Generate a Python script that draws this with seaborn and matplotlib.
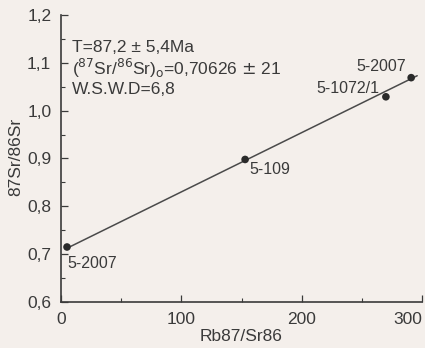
import numpy as np
import pandas as pd
import matplotlib
matplotlib.use("Agg")
import matplotlib.pyplot as plt
import seaborn as sns

# ---- data ----
samples = ["5-2007", "5-109", "5-1072/1", "5-2007"]
rb_sr = [5, 153, 270, 291]
sr_sr = [0.715, 0.898, 1.029, 1.069]
age_ma = 87.2
sr_initial = 0.70626
decay_const = 1.42e-11
line_x = [5, 296]
x_ticks = [0, 100, 200, 300]
x_ticklabels = ["0", "100", "200", "300"]
y_ticks = [0.6, 0.7, 0.8, 0.9, 1.0, 1.1, 1.2]
y_ticklabels = ["0,6", "0,7", "0,8", "0,9", "1,0", "1,1", "1,2"]

sns.set_theme(style="ticks")
plt.rcParams['font.family'] = ['Liberation Sans', 'DejaVu Sans']
bg = "#f4efeb"
ink = "#3a3a3a"

fig = plt.figure(figsize=(4.25, 3.48), dpi=100, facecolor=bg)
ax = fig.add_axes([61/425, 1-302/348, (422-61)/425, (302-15)/348])
ax.set_facecolor(bg)

df = pd.DataFrame({"x": rb_sr, "y": sr_sr, "name": samples})
slope = np.exp(decay_const * age_ma * 1e6) - 1
ldf = pd.DataFrame({"x": line_x, "y": [sr_initial + slope * v for v in line_x]})
sns.lineplot(data=ldf, x="x", y="y", ax=ax, color="#4a4a4a", lw=1.1)
sns.scatterplot(data=df, x="x", y="y", ax=ax, color="#2a2a2a", s=30,
                edgecolor="none", zorder=5)

ax.set_xlim(0, 300)
ax.set_ylim(0.6, 1.2)
ax.set_xticks(x_ticks)
ax.set_xticklabels(x_ticklabels)
ax.set_yticks(y_ticks)
ax.set_yticklabels(y_ticklabels)
ax.set_xticks([50, 150, 250], minor=True)
ax.set_yticks([0.65, 0.75, 0.85, 0.95, 1.05, 1.15], minor=True)
ax.tick_params(axis="both", which="major", direction="in", length=5,
               width=0.9, color=ink, labelsize=12.5, labelcolor=ink, pad=7)
ax.tick_params(axis="both", which="minor", direction="in", length=3,
               width=0.8, color=ink)
for lab in ax.get_xticklabels():
    if lab.get_text() == "300":
        lab.set_horizontalalignment("right")
for s in ["top", "right"]:
    ax.spines[s].set_visible(False)
for s in ["left", "bottom"]:
    ax.spines[s].set_color(ink)
    ax.spines[s].set_linewidth(1.2)

ax.set_xlabel("Rb87/Sr86", fontsize=12.5, color=ink)
ax.set_ylabel("87Sr/86Sr", fontsize=12.5, color=ink)
ax.xaxis.set_label_coords((241-61)/361, -(329-302)/287)
ax.yaxis.set_label_coords(-(61-23)/361, 1-(157-15)/287)

# sample labels
offsets = [(0, -12), (3, -7), (-5, 6), (-4, 8)]
has = ["left", "left", "right", "right"]
for (nx, ny), ha, n, x, y in zip(offsets, has, samples, rb_sr, sr_sr):
    ax.annotate(n, (x, y), xytext=(nx, ny), textcoords="offset points",
                ha=ha, va="center", fontsize=11.5, color=ink)

txt_kw = dict(transform=ax.transAxes, fontsize=12.5, color=ink, ha="left", va="center")
ax.text(0.03, 1-(48-15)/287, "T=87,2 \u00b1 5,4Ma", **txt_kw)
ax.text(0.03, 1-(68-15)/287, r"($^{87}$Sr/$^{86}$Sr)$_{\mathrm{o}}$=0,70626 $\pm$ 21", **txt_kw)
ax.text(0.03, 1-(89-15)/287, "W.S.W.D=6,8", **txt_kw)

fig.savefig("out.png", dpi=100, facecolor=bg)
